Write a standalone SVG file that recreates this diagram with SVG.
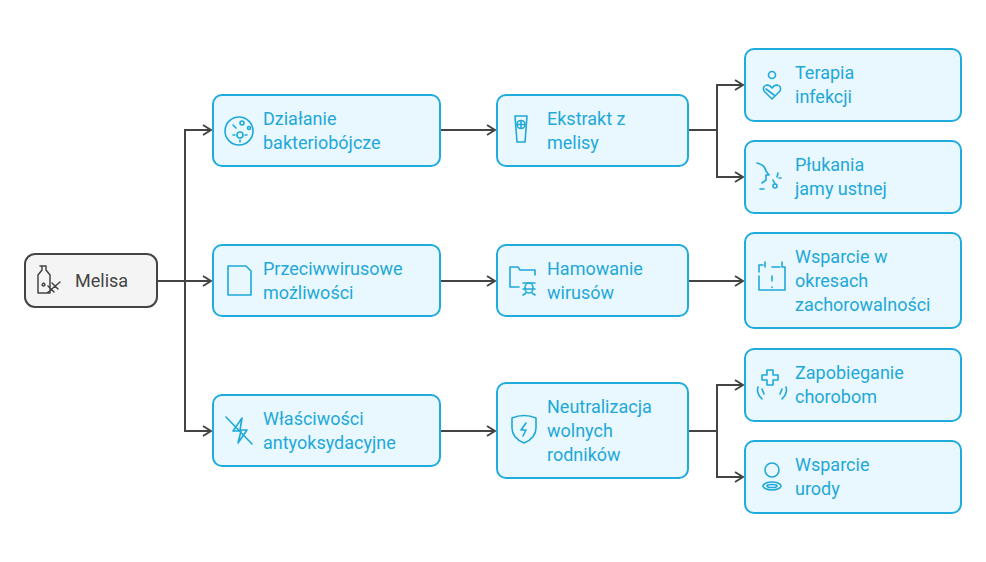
<svg xmlns="http://www.w3.org/2000/svg" width="986" height="562" viewBox="0 0 986 562">
<defs>
<style>
.n{fill:#e8f8fe;stroke:#1fabdc;stroke-width:2}
.r{fill:#f4f4f4;stroke:#444;stroke-width:2}
.t{font-family:Roboto,"Liberation Sans",sans-serif;font-size:18px;fill:#1fa8d8}
.tr{font-family:Roboto,"Liberation Sans",sans-serif;font-size:18px;fill:#444}
.c{fill:none;stroke:#444;stroke-width:2}
.i{fill:none;stroke:#1fa8d8;stroke-width:1.6;stroke-linecap:round;stroke-linejoin:round}
.ir{fill:none;stroke:#444;stroke-width:1.5;stroke-linecap:round;stroke-linejoin:round}
</style>
<marker id="a" viewBox="0 0 10 12" refX="9" refY="6" markerWidth="10" markerHeight="12" markerUnits="userSpaceOnUse" orient="auto"><path d="M1 1 L9 6 L1 11" fill="none" stroke="#444" stroke-width="2"/></marker>
</defs>
<rect width="986" height="562" fill="#fff"/>
<g id="connectors">
<path class="c" d="M157 281 H185 V130 H211" marker-end="url(#a)"/>
<path class="c" d="M185 281 H211" marker-end="url(#a)"/>
<path class="c" d="M185 281 V431 H211" marker-end="url(#a)"/>
<path class="c" d="M440 130 H495" marker-end="url(#a)"/>
<path class="c" d="M440 281 H495" marker-end="url(#a)"/>
<path class="c" d="M440 431 H495" marker-end="url(#a)"/>
<path class="c" d="M688 130 H717 V85 H743" marker-end="url(#a)"/>
<path class="c" d="M717 130 V177 H743" marker-end="url(#a)"/>
<path class="c" d="M688 281 H743" marker-end="url(#a)"/>
<path class="c" d="M688 431 H717 V385 H743" marker-end="url(#a)"/>
<path class="c" d="M717 431 V477 H743" marker-end="url(#a)"/>
</g>
<g id="melisa">
<rect class="r" x="25" y="254" width="132" height="53" rx="10"/>
<path class="ir" d="M40 266 h6 v4 l4 5 v18 h-12 v-18 l4-5 v-4 M42 285 q2-4 3 0 q-1 2-3 0 M47 293 L60 282 M51 289 l-3-3 M55 286 l-3-3 M51 289 l3 3 M55 286 l3 3"/>
<text class="tr" x="75" y="287">Melisa</text>
</g>
<g id="dzialanie">
<rect class="n" x="213" y="95" width="227" height="71" rx="9"/>
<circle class="i" cx="239" cy="131" r="14"/><circle class="i" cx="240" cy="135" r="3"/><circle class="i" cx="242" cy="123" r="2"/><circle class="i" cx="249" cy="128" r="1.5"/><path class="i" d="M233 125 l3 3 M240 140 v2 M235 135 h-2 M245 135 h2"/>
<text class="t" x="263" y="125">Działanie</text><text class="t" x="263" y="149">bakteriobójcze</text>
</g>
<g id="przeciw">
<rect class="n" x="213" y="245" width="227" height="71" rx="9"/>
<path class="i" d="M228 266 h18 l5 5 v24 h-23 z"/>
<text class="t" x="263" y="275">Przeciwwirusowe</text><text class="t" x="263" y="299">możliwości</text>
</g>
<g id="wlasciwosci">
<rect class="n" x="213" y="395" width="227" height="71" rx="9"/>
<path class="i" d="M242 418 l-9 13 h8 l-3 12 l9-13 h-7 z M226 417 l26 27"/>
<text class="t" x="263" y="425">Właściwości</text><text class="t" x="263" y="449">antyoksydacyjne</text>
</g>
<g id="ekstrakt">
<rect class="n" x="497" y="95" width="191" height="71" rx="9"/>
<path class="i" d="M515 116 h12 l-2 26 h-8 z M521 121 v7 M517.5 124.5 h7"/><circle class="i" cx="521" cy="124.5" r="4"/>
<text class="t" x="547" y="125">Ekstrakt z</text><text class="t" x="547" y="149">melisy</text>
</g>
<g id="hamowanie">
<rect class="n" x="497" y="245" width="191" height="71" rx="9"/>
<path class="i" d="M510 287 v-20 h8 l2 3 h15 v5 M510 287 h9"/><ellipse class="i" cx="529" cy="288" rx="4" ry="5"/><path class="i" d="M523 283 h12 M523 289 h12 M523 295 l3-2 M535 295 l-3-2"/>
<text class="t" x="547" y="275">Hamowanie</text><text class="t" x="547" y="299">wirusów</text>
</g>
<g id="neutralizacja">
<rect class="n" x="497" y="383" width="191" height="95" rx="9"/>
<path class="i" d="M512 418 q12-5 24 0 v10 q0 10-12 15 q-12-5-12-15 z M526 423 l-5 7 h5 l-3 6"/>
<text class="t" x="547" y="413">Neutralizacja</text><text class="t" x="547" y="437">wolnych</text><text class="t" x="547" y="461">rodników</text>
</g>
<g id="terapia">
<rect class="n" x="745" y="49" width="216" height="72" rx="9"/>
<circle class="i" cx="772" cy="75" r="3.5"/><path class="i" d="M772 99 l-8-8 q-2-5 3-6 q3 0 5 3 q2-3 5-3 q5 1 3 6 z M766 89 l8 6"/>
<text class="t" x="795" y="79">Terapia</text><text class="t" x="795" y="103">infekcji</text>
</g>
<g id="plukania">
<rect class="n" x="745" y="141" width="216" height="72" rx="9"/>
<path class="i" d="M757 163 q8 2 9 8 l3 4 h-3 v5 l-4 3 M764 189 h-4 M773 180 l2 4 M778 173 l-1 4 M781 178 h-2"/><circle class="i" cx="775" cy="186" r="2"/>
<text class="t" x="795" y="171">Płukania</text><text class="t" x="795" y="195">jamy ustnej</text>
</g>
<g id="wsparcie-okresy">
<rect class="n" x="745" y="233" width="216" height="95" rx="9"/>
<path class="i" d="M759 272 v-7 h4 M765 267 v-5 M772 267 h8 M782 262 v5 h3 v23 h-26 v-14"/><path class="i" d="M772 276 v5 M772 287 v.5"/>
<text class="t" x="795" y="263">Wsparcie w</text><text class="t" x="795" y="287">okresach</text><text class="t" x="795" y="311">zachorowalności</text>
</g>
<g id="zapobieganie">
<rect class="n" x="745" y="349" width="216" height="72" rx="9"/>
<path class="i" d="M767 370 h6 v5 h5 v5 h-5 v5 h-6 v-5 h-5 v-5 h5 z M758 387 q-2 6 4 12 M762 389 l2 5 M786 387 q2 6-4 12 M782 389 l-2 5"/>
<text class="t" x="795" y="379">Zapobieganie</text><text class="t" x="795" y="403">chorobom</text>
</g>
<g id="wsparcie-urody">
<rect class="n" x="745" y="441" width="216" height="72" rx="9"/>
<circle class="i" cx="772" cy="470" r="7"/><ellipse class="i" cx="772" cy="486" rx="9" ry="4"/><ellipse class="i" cx="772" cy="486" rx="5" ry="1.5"/>
<text class="t" x="795" y="471">Wsparcie</text><text class="t" x="795" y="495">urody</text>
</g>
</svg>
